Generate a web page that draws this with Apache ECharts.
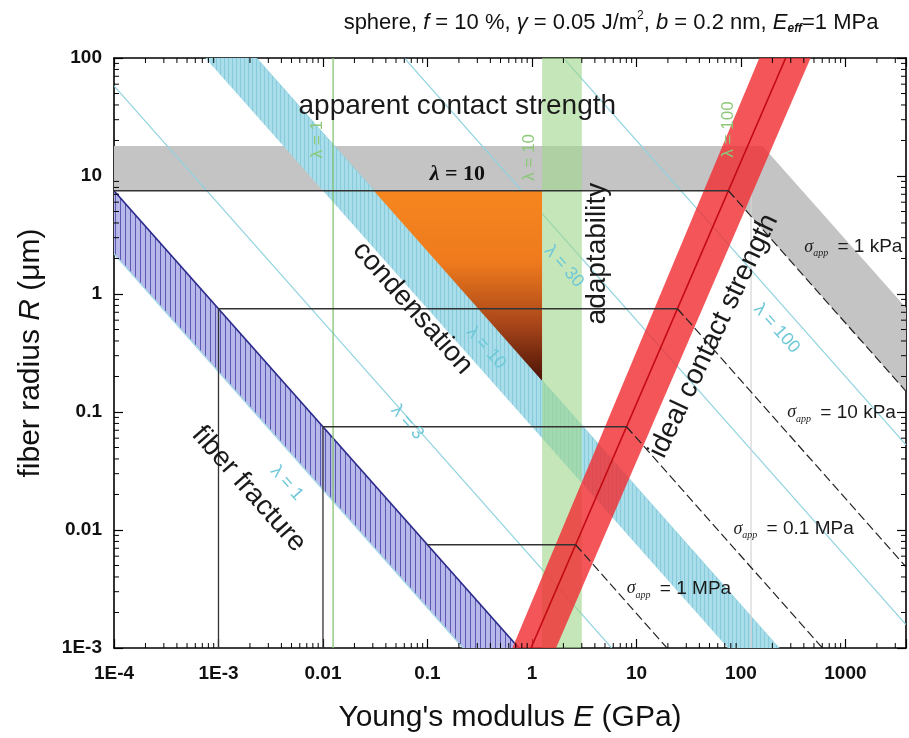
<!DOCTYPE html>
<html>
<head>
<meta charset="utf-8">
<script src="https://cdn.jsdelivr.net/npm/echarts@6/dist/echarts.min.js"></script>
<style>
  html, body { margin: 0; padding: 0; background: #fff; }
  #chart { width: 909px; height: 738px; }
</style>
</head>
<body>
<div id="chart"></div>
<script>
// ---- axis ranges (E in GPa, R in µm) ----
const E_RANGE = [1e-4, 3800];
const R_RANGE = [1e-3, 100];
const xTickLabels = ['1E-4', '1E-3', '0.01', '0.1', '1', '10', '100', '1000'];
const yTickLabels = ['1E-3', '0.01', '0.1', '1', '10', '100'];

// ---- regions ----
// fiber fracture band: E·R products (GPa·µm) of its lower and upper edge
const fractureRE = [2.2e-4, 7.5e-4];
// condensation band: E·R products of its edges
const condensationRE = [0.075, 0.23];
// apparent contact strength: flat part between these radii, sloped part up to this E·R
const apparentR = [7.5, 18];
const apparentUpperRE = 2900;
// adaptability band (GPa)
const adaptabilityE = [1.25, 3.0];
// ideal contact strength: E (GPa) where each edge meets R = 1E-3 and R = 100
const idealLeft = [0.65, 150];
const idealCentre = [0.98, 268];
const idealRight = [1.7, 464];

// ---- iso-lines ----
// σ_app steps: radius of each horizontal step (µm); each step starts on the fracture edge
const stepR = [7.5, 0.75, 0.075, 0.0075];
const stepVerticalE = [1e-3, 0.01];
const sigmaNames = ['1 kPa', '10 kPa', '0.1 MPa', '1 MPa'];
const sigmaLabelAt = [[1190, 2.5], [918, 0.099], [319, 0.0102], [25.5, 0.0032]];
// λ iso-lines: E·R products and label anchors
const lambdaNames = ['1', '3', '10', '30', '100'];
const lambdaRE = [2.2e-4, 5.8e-3, 0.23, 6, 200];
const lambdaLabelAt = [[4.5e-3, 0.025], [0.064, 0.082], [0.365, 0.35], [2.03, 1.71], [220, 0.51]];
// vertical λ lines (GPa) and their labels
const lambdaVerticalNames = ['1', '10', '100'];
const lambdaVerticalE = [0.0125, 1.25, 125];
const lambdaVerticalLabelAt = [[0.0089, 20.4], [0.94, 14.4], [76, 24.8]];

// ---- region names ----
const regionNames = ['apparent contact strength', 'condensation', 'adaptability', 'ideal contact strength', 'fiber fracture'];
const regionLabelAt = [[0.193, 38.7], [0.072, 0.76], [4.2, 2.2], [55, 0.44], [1.95e-3, 0.0222]];
const regionLabelRot = [0, -48.6, 90, 64.6, -48.6];

const FONT = "'Liberation Sans', Arial, sans-serif";
const NARROW = "'Liberation Sans Narrow', 'Arial Narrow', 'Liberation Sans', Arial, sans-serif";
const SERIF = "'Liberation Serif', 'DejaVu Serif', serif";

// ---- helpers ----
const lg = Math.log10;
function edgeE(R, edge) {
  const t = (lg(R) - lg(R_RANGE[0])) / (lg(R_RANGE[1]) - lg(R_RANGE[0]));
  return Math.pow(10, lg(edge[0]) + t * (lg(edge[1]) - lg(edge[0])));
}
function isoLine(re) { return [[E_RANGE[0], re / E_RANGE[0]], [E_RANGE[1], re / E_RANGE[1]]]; }
function isoBand(lo, hi) {
  return [[E_RANGE[0], lo / E_RANGE[0]], [E_RANGE[1], lo / E_RANGE[1]],
          [E_RANGE[1], hi / E_RANGE[1]], [E_RANGE[0], hi / E_RANGE[0]]];
}
function hatch(bg, fg, step) {
  const c = document.createElement('canvas');
  c.width = step; c.height = 8;
  const g = c.getContext('2d');
  g.fillStyle = bg; g.fillRect(0, 0, step, 8);
  g.fillStyle = fg; g.fillRect(0, 0, 1, 8);
  return c;
}
function area(points, style, z) {
  return {
    type: 'custom', coordinateSystem: 'cartesian2d', clip: true, silent: true, z: z,
    data: points,
    renderItem: (params, api) => params.dataIndex !== 0 ? null :
      { type: 'polygon', shape: { points: points.map(p => api.coord(p)) }, style: style }
  };
}
function path(points, style, z) {
  return {
    type: 'custom', coordinateSystem: 'cartesian2d', clip: true, silent: true, z: z,
    data: points,
    renderItem: (params, api) => params.dataIndex !== 0 ? null :
      { type: 'polyline', shape: { points: points.map(p => api.coord(p)) },
        style: Object.assign({ fill: null }, style) }
  };
}
function label(at, text, rotDeg, style, z) {
  return {
    type: 'custom', coordinateSystem: 'cartesian2d', clip: false, silent: true, z: z || 20,
    data: [at],
    renderItem: (params, api) => {
      const p = api.coord([api.value(0), api.value(1)]);
      return { type: 'text', x: p[0], y: p[1], rotation: rotDeg * Math.PI / 180,
        style: Object.assign({ text: text, align: 'center', verticalAlign: 'middle' }, style) };
    }
  };
}
function tickFormatter(list, min) {
  return v => {
    const k = lg(v), r = Math.round(k);
    if (Math.abs(k - r) > 1e-6) return '';
    return list[r - Math.round(lg(min))] || '';
  };
}

// ---- derived geometry ----
const stepE = stepR.map(r => fractureRE[1] / r);
const stepEndE = stepR.map(r => edgeE(r, idealCentre));
const sigmaRE = stepR.map((r, i) => r * stepEndE[i]);

const series = [];

// apparent contact strength (flat band turning into the σ_app = 1 kPa band)
series.push(area([
  [E_RANGE[0], apparentR[1]], [apparentUpperRE / apparentR[1], apparentR[1]],
  [E_RANGE[1], apparentUpperRE / E_RANGE[1]], [E_RANGE[1], sigmaRE[0] / E_RANGE[1]],
  [stepEndE[0], apparentR[0]], [E_RANGE[0], apparentR[0]]
], { fill: '#c4c4c4' }, 1));

// λ iso-lines
lambdaRE.forEach(re => series.push(path(isoLine(re), { stroke: '#8fd3df', lineWidth: 1.2 }, 2)));

// condensation band
series.push(area(isoBand(condensationRE[0], condensationRE[1]),
  { fill: { image: hatch('#a9dde9', '#86cbdc', 4), repeat: 'repeat' } }, 3));

// fiber fracture band
series.push(area(isoBand(fractureRE[0], fractureRE[1]),
  { fill: { image: hatch('#b7b7ea', '#5a5ab4', 5), repeat: 'repeat' } }, 3));
series.push(path(isoLine(fractureRE[1]), { stroke: '#2a2a8c', lineWidth: 1.6 }, 3));
series.push(path(isoLine(fractureRE[0]), { stroke: '#a7d8e8', lineWidth: 1.2 }, 3));

// vertical λ lines
series.push(path([[lambdaVerticalE[0], R_RANGE[0]], [lambdaVerticalE[0], R_RANGE[1]]],
  { stroke: '#86c572', lineWidth: 1.3 }, 4));
series.push(path([[lambdaVerticalE[2], R_RANGE[0]], [lambdaVerticalE[2], apparentR[0]]],
  { stroke: '#d4d4d4', lineWidth: 1.2 }, 4));

// adaptability band
series.push(area([[adaptabilityE[0], R_RANGE[0]], [adaptabilityE[1], R_RANGE[0]],
  [adaptabilityE[1], R_RANGE[1]], [adaptabilityE[0], R_RANGE[1]]],
  { fill: 'rgba(160,214,140,0.62)' }, 4));

// design window between condensation, apparent strength and adaptability
series.push(area([
  [condensationRE[1] / apparentR[0], apparentR[0]], [adaptabilityE[0], apparentR[0]],
  [adaptabilityE[0], condensationRE[1] / adaptabilityE[0]]
], { fill: { type: 'linear', x: 0, y: 0, x2: 0, y2: 1, colorStops: [
  { offset: 0, color: '#f7861f' }, { offset: 0.38, color: '#ee7a1d' },
  { offset: 0.7, color: '#a9461a' }, { offset: 1, color: '#4a1206' }] } }, 5));

// ideal contact strength band and centre line
series.push(area([[idealLeft[0], R_RANGE[0]], [idealLeft[1], R_RANGE[1]],
  [idealRight[1], R_RANGE[1]], [idealRight[0], R_RANGE[0]]],
  { fill: 'rgba(240,48,52,0.82)' }, 6));
series.push(path([[idealCentre[0], R_RANGE[0]], [idealCentre[1], R_RANGE[1]]],
  { stroke: '#c40a12', lineWidth: 1.6 }, 7));

// σ_app steps: vertical risers, horizontal steps and sloped dashed continuations
stepVerticalE.forEach((e, i) => series.push(path([[e, R_RANGE[0]], [e, stepR[i + 1]]],
  { stroke: '#333', lineWidth: 1.3 }, 7)));
stepR.forEach((r, i) => {
  series.push(path([[stepE[i], r], [stepEndE[i], r]], { stroke: '#333', lineWidth: 1.3 }, 7));
  series.push(path([[stepEndE[i], r], [E_RANGE[1], sigmaRE[i] / E_RANGE[1]]],
    { stroke: '#222', lineWidth: 1.2, lineDash: [9, 4] }, 7));
});

// ---- labels ----
regionNames.forEach((t, i) => series.push(label(regionLabelAt[i], t, regionLabelRot[i],
  { fontSize: 28, fontFamily: FONT, fill: '#1a1a1a' })));
series.push(label([0.193, 10.3], '{l|λ} = 10', 0,
  { fontSize: 22, fontFamily: SERIF, fontWeight: 'bold', fill: '#111',
    rich: { l: { fontSize: 22, fontFamily: SERIF, fontStyle: 'italic', fontWeight: 'bold', fill: '#111' } } }));
lambdaNames.forEach((n, i) => series.push(label(lambdaLabelAt[i], 'λ = ' + n, -48.6,
  { fontSize: 18, fontFamily: FONT, fill: '#6ec8d8' })));
lambdaVerticalNames.forEach((n, i) => series.push(label(lambdaVerticalLabelAt[i], 'λ = ' + n, 90,
  { fontSize: 17, fontFamily: FONT, fill: '#8cc878' })));
sigmaNames.forEach((n, i) => series.push(label(sigmaLabelAt[i], '{s|σ}{a|app} = ' + n, 0,
  { fontSize: 19, fontFamily: FONT, fill: '#1a1a1a',
    rich: { s: { fontSize: 18, fontFamily: SERIF, fontStyle: 'italic', fill: '#1a1a1a' },
            a: { fontSize: 10, fontFamily: SERIF, fontStyle: 'italic', fill: '#1a1a1a', padding: [13, 4, 0, 0] } } })));

// ---- log minor ticks on all four sides ----
const minorE = [], minorR = [];
for (let k = -4; k <= 3; k++) for (let m = 2; m <= 9; m++) if (m * Math.pow(10, k) < E_RANGE[1]) minorE.push(m * Math.pow(10, k));
for (let k = -3; k <= 1; k++) for (let m = 2; m <= 9; m++) minorR.push(m * Math.pow(10, k));
series.push({
  type: 'custom', coordinateSystem: 'cartesian2d', clip: false, silent: true, z: 30,
  data: minorE.map(v => [v, R_RANGE[0]]),
  renderItem: (params, api) => {
    const cs = params.coordSys, x = api.coord([api.value(0), R_RANGE[0]])[0];
    const st = { stroke: '#000', lineWidth: 1 };
    return { type: 'group', children: [
      { type: 'line', shape: { x1: x, y1: cs.y + cs.height, x2: x, y2: cs.y + cs.height - 5 }, style: st },
      { type: 'line', shape: { x1: x, y1: cs.y, x2: x, y2: cs.y + 5 }, style: st }] };
  }
});
series.push({
  type: 'custom', coordinateSystem: 'cartesian2d', clip: false, silent: true, z: 30,
  data: minorR.map(v => [E_RANGE[0], v]),
  renderItem: (params, api) => {
    const cs = params.coordSys, y = api.coord([E_RANGE[0], api.value(1)])[1];
    const st = { stroke: '#000', lineWidth: 1 };
    return { type: 'group', children: [
      { type: 'line', shape: { x1: cs.x, y1: y, x2: cs.x + 5, y2: y }, style: st },
      { type: 'line', shape: { x1: cs.x + cs.width, y1: y, x2: cs.x + cs.width - 5, y2: y }, style: st }] };
  }
});

const frame = { show: true, onZero: false, lineStyle: { color: '#000', width: 1.6 } };
const majorTick = { show: true, inside: true, length: 9, lineStyle: { color: '#000', width: 1.2 } };
const tickFont = { fontSize: 19, fontWeight: 'bold', color: '#111', fontFamily: NARROW };

const option = {
  animation: false,
  backgroundColor: '#fff',
  grid: { left: 114, right: 3, top: 58, bottom: 86, containLabel: false },
  xAxis: [
    { type: 'log', logBase: 10, min: E_RANGE[0], max: E_RANGE[1], interval: 1, position: 'bottom',
      axisLine: frame, axisTick: majorTick, splitLine: { show: false },
      axisLabel: Object.assign({ margin: 16, formatter: tickFormatter(xTickLabels, E_RANGE[0]) }, tickFont),
      name: "Young's modulus {i|E} (GPa)", nameLocation: 'middle', nameGap: 55,
      nameTextStyle: { fontSize: 30, fontFamily: FONT, color: '#111',
        rich: { i: { fontSize: 30, fontFamily: FONT, fontStyle: 'italic', color: '#111' } } } },
    { type: 'log', logBase: 10, min: E_RANGE[0], max: E_RANGE[1], interval: 1, position: 'top',
      axisLine: frame, axisTick: majorTick, splitLine: { show: false }, axisLabel: { show: false } }
  ],
  yAxis: [
    { type: 'log', logBase: 10, min: R_RANGE[0], max: R_RANGE[1], interval: 1, position: 'left',
      axisLine: frame, axisTick: majorTick, splitLine: { show: false },
      axisLabel: Object.assign({ margin: 12, formatter: tickFormatter(yTickLabels, R_RANGE[0]) }, tickFont),
      name: 'fiber radius {i|R} (μm)', nameLocation: 'middle', nameGap: 68, nameRotate: 90,
      nameTextStyle: { fontSize: 30, fontFamily: FONT, color: '#111',
        rich: { i: { fontSize: 30, fontFamily: FONT, fontStyle: 'italic', color: '#111' } } } },
    { type: 'log', logBase: 10, min: R_RANGE[0], max: R_RANGE[1], interval: 1, position: 'right',
      axisLine: frame, axisTick: majorTick, splitLine: { show: false }, axisLabel: { show: false } }
  ],
  graphic: [{
    type: 'text', x: 611, y: 23, z: 50,
    style: {
      text: 'sphere, {i|f} = 10 %, {i|γ} = 0.05 J/m{sup|2}, {i|b} = 0.2 nm, {i|E}{sub|eff}=1 MPa',
      align: 'center', verticalAlign: 'middle', fontSize: 22, fontFamily: FONT, fill: '#111',
      rich: {
        i: { fontSize: 22, fontFamily: FONT, fontStyle: 'italic', fill: '#111' },
        sup: { fontSize: 12, fontFamily: FONT, fill: '#111', padding: [0, 0, 14, 0] },
        sub: { fontSize: 12, fontFamily: FONT, fontStyle: 'italic', fontWeight: 'bold', fill: '#111', padding: [12, 0, 0, 0] }
      }
    }
  }],
  series: series
};

const chart = echarts.init(document.getElementById('chart'));
chart.setOption(option);
</script>
</body>
</html>
